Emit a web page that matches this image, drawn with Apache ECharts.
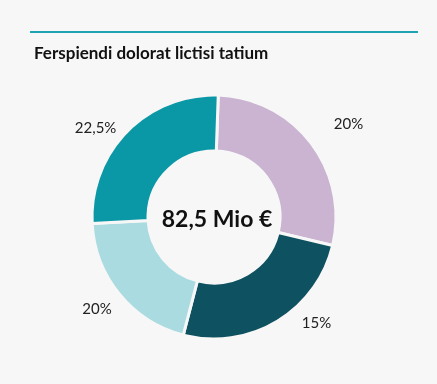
<!DOCTYPE html>
<html>
<head>
<meta charset="utf-8">
<script src="https://cdn.jsdelivr.net/npm/echarts@6/dist/echarts.min.js"></script>
<style>
html,body{margin:0;padding:0;background:#f7f7f7;}
#c{width:437px;height:384px;}
</style>
</head>
<body>
<div id="c"></div>
<script>
// Data
const categories = ['A', 'B', 'C', 'D'];
const sliceValues = [28.2, 25.3, 20.1, 26.4];
const sliceLabels = ['20%', '15%', '20%', '22,5%'];
const sliceColors = ['#cab4d2', '#0e5161', '#aadbe0', '#0a97a6'];
const totalLabel = '82,5 Mio €';
const chartTitle = 'Ferspiendi dolorat lictisi tatium';

// label placement tuning (layout only)
const lineLen = [31, 2, 23, 5];
const lineLen2 = [-2, 24, -10, 7];

const chart = echarts.init(document.getElementById('c'), null, {renderer: 'canvas'});
chart.setOption({
  backgroundColor: '#f7f7f7',
  animation: false,
  title: [
    {
      text: chartTitle,
      left: 29, top: 40,
      textStyle: {fontFamily: 'Lato', fontWeight: 'bold', fontSize: 17, color: '#111'}
    },
    {
      text: totalLabel,
      left: 212, top: 203, textAlign: 'center',
      textStyle: {fontFamily: 'Lato', fontWeight: 'bold', fontSize: 23, color: '#111'}
    }
  ],
  graphic: [
    {type: 'line', shape: {x1: 30, y1: 32, x2: 418, y2: 32}, style: {stroke: '#1fa3b3', lineWidth: 2}}
  ],
  series: [{
    type: 'pie',
    center: [214, 217],
    radius: [66, 122],
    startAngle: 88,
    clockwise: true,
    avoidLabelOverlap: false,
    itemStyle: {borderColor: '#f7f7f7', borderWidth: 3},
    label: {
      show: true, position: 'outside', distanceToLabelLine: 0,
      fontFamily: 'Lato', fontSize: 15, color: '#222'
    },
    labelLine: {show: false},
    emphasis: {disabled: true},
    data: categories.map((c, i) => ({
      name: c,
      value: sliceValues[i],
      itemStyle: {color: sliceColors[i]},
      label: {formatter: sliceLabels[i]},
      labelLine: {show: false, length: lineLen[i], length2: lineLen2[i]}
    }))
  }]
});
</script>
</body>
</html>
